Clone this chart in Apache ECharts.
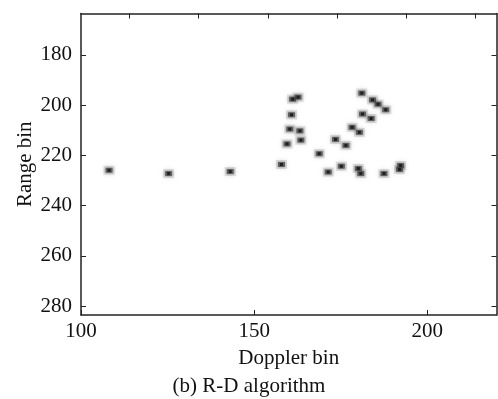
<!DOCTYPE html>
<html>
<head>
<meta charset="utf-8">
<script src="https://cdn.jsdelivr.net/npm/echarts@6/dist/echarts.min.js"></script>
<style>html,body{margin:0;padding:0;background:#fff}#c{width:498px;height:399px}</style>
</head>
<body>
<div id="c"></div>
<script>
// Doppler bin (x) and Range bin (y) of detected scatterers
var dopplerBin = [108.1,125.3,143.1,157.9,159.5,160.3,160.8,161.1,162.7,163.2,163.5,168.8,171.4,173.5,175.2,176.5,178.3,180.4,180.1,180.8,181.1,181.3,183.8,184.2,185.8,188.0,187.5,192.0,192.3];
var rangeBin   = [225.9,227.2,226.4,223.6,215.4,209.5,203.8,197.6,196.8,210.2,213.9,219.3,226.6,213.6,224.3,216.0,208.8,210.8,225.2,227.2,195.2,203.5,205.3,197.9,199.6,201.8,227.2,225.6,224.0];
var xTicks = [100,150,200];
var xTopTicks = [114,134,154,174,194,214];
var yTicks = [180,200,220,240,260,280];

var pts = dopplerBin.map(function(x,i){return [x, rangeBin[i]];});
var font = '"Liberation Serif","Times New Roman",serif';
var chart = echarts.init(document.getElementById('c'));
var axLine = {show:true, lineStyle:{color:'#222', width:1.5}};
chart.setOption({
  animation:false,
  backgroundColor:'#fff',
  title:{text:'(b) R-D algorithm', left:'center', top:371, textStyle:{fontFamily:font, fontSize:21, fontWeight:'normal', color:'#111'}},
  grid:{left:81, right:1.5, top:13.5, bottom:84, containLabel:false},
  xAxis:[{
    type:'value', min:100, max:220, position:'bottom',
    name:'Doppler bin', nameLocation:'middle', nameGap:33, nameMoveOverlap:false,
    nameTextStyle:{fontFamily:font, fontSize:21, color:'#111'},
    axisLine:axLine,
    axisTick:{show:true, inside:true, length:5, customValues:xTicks, lineStyle:{color:'#222'}},
    axisLabel:{customValues:xTicks, fontFamily:font, fontSize:21, color:'#111', margin:6},
    splitLine:{show:false}
  },{
    type:'value', min:100, max:220, position:'top',
    axisLine:axLine,
    axisTick:{show:true, inside:true, length:5, customValues:xTopTicks, lineStyle:{color:'#222'}},
    axisLabel:{show:false},
    splitLine:{show:false}
  }],
  yAxis:[{
    type:'value', min:163.5, max:283.5, inverse:true, position:'left',
    name:'Range bin', nameLocation:'middle', nameGap:45, nameRotate:90, nameMoveOverlap:false,
    nameTextStyle:{fontFamily:font, fontSize:21, color:'#111'},
    axisLine:axLine,
    axisTick:{show:true, inside:true, length:5, customValues:yTicks, lineStyle:{color:'#222'}},
    axisLabel:{customValues:yTicks, fontFamily:font, fontSize:21, color:'#111', margin:9},
    splitLine:{show:false}
  },{
    type:'value', min:163.5, max:283.5, inverse:true, position:'right',
    axisLine:axLine,
    axisTick:{show:true, inside:true, length:5, customValues:yTicks, lineStyle:{color:'#222'}},
    axisLabel:{show:false},
    splitLine:{show:false}
  }],
  series:[{
    type:'scatter', data:pts, symbol:'rect', symbolSize:[11,9],
    itemStyle:{color:'rgba(150,150,150,0.35)', shadowBlur:5, shadowColor:'rgba(0,0,0,0.3)'}
  },{
    type:'scatter', data:pts, symbol:'rect', symbolSize:[7,5],
    itemStyle:{color:'rgba(60,60,60,0.85)', shadowBlur:3, shadowColor:'rgba(0,0,0,0.5)'}
  },{
    type:'scatter', data:pts, symbol:'rect', symbolSize:[3,3],
    itemStyle:{color:'#111'}
  }]
});
</script>
</body>
</html>
